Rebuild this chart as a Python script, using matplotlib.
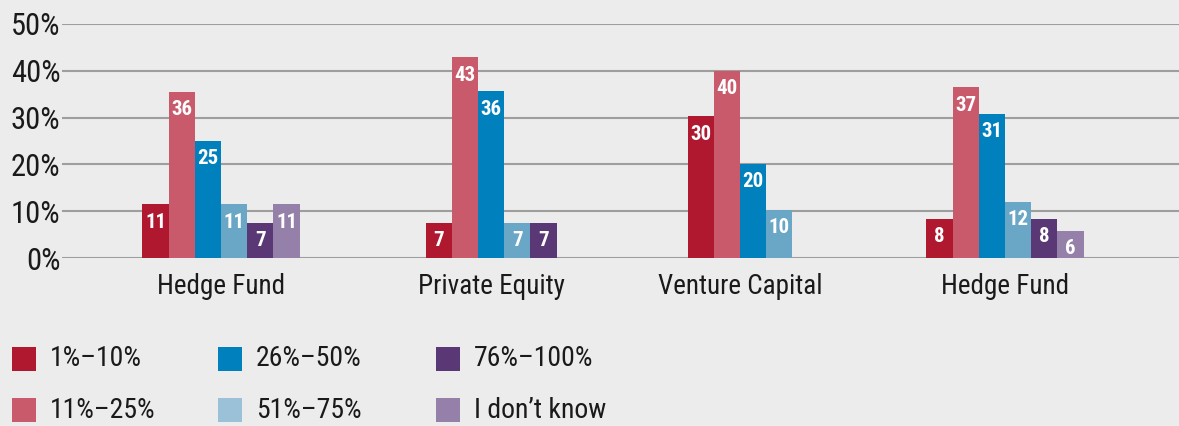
import numpy as np
import matplotlib.pyplot as plt
from matplotlib.patches import Rectangle

plt.rcParams['font.family'] = ['Roboto Condensed', 'DejaVu Sans']

# Data
groups = ['Hedge Fund', 'Private Equity', 'Venture Capital', 'Hedge Fund']
series = ['1%\u201310%', '11%\u201325%', '26%\u201350%', '51%\u201375%', '76%\u2013100%', 'I don\u2019t know']
# bar heights (None = no bar)
hf1 = [11.5, 35.5, 25.1, 11.5, 7.5, 11.5]
pe = [7.5, 42.9, 35.6, 7.5, 7.5, None]
vc = [30.3, 40.0, 20.1, 10.3, None, None]
hf2 = [8.3, 36.5, 30.8, 12.0, 8.3, 5.8]
# printed labels
hf1_lab = [11, 36, 25, 11, 7, 11]
pe_lab = [7, 43, 36, 7, 7, None]
vc_lab = [30, 40, 20, 10, None, None]
hf2_lab = [8, 37, 31, 12, 8, 6]

colors = ['#b0182f', '#c85a6b', '#0080bd', '#6aa6c6', '#5a3775', '#9580aa']
legend_colors = ['#b0182f', '#c85a6b', '#0080bd', '#9bc1d8', '#5a3775', '#9580aa']
bg = '#ececec'
txt = '#1a1a1a'

W, H = 1179, 426
# layout (pixel units on the x axis)
group_x = [221, 491, 740, 1005]
bar_w = 26.2

fig = plt.figure(figsize=(W / 100, H / 100), dpi=100, facecolor=bg)
ax = fig.add_axes([62 / W, 1 - 258 / H, 1 - 62 / W, (258 - 24) / H], facecolor=bg)
ax.set_xlim(62, W)
ax.set_ylim(0, 50)

for gx, vals, labs in zip(group_x, [hf1, pe, vc, hf2], [hf1_lab, pe_lab, vc_lab, hf2_lab]):
    idx = [i for i, v in enumerate(vals) if v is not None]
    start = gx - len(idx) * bar_w / 2
    for k, i in enumerate(idx):
        x = start + k * bar_w + bar_w / 2
        ax.bar(x, vals[i], width=bar_w, color=colors[i], zorder=3)
        ax.annotate(str(labs[i]), (x, vals[i]), xytext=(0, -6), textcoords='offset points',
                    ha='center', va='top', color='white', fontsize=15, fontweight='bold', zorder=4)

ax.set_yticks(np.arange(0, 51, 10))
ax.set_yticklabels([f'{t}%' for t in range(0, 51, 10)], fontsize=22, color=txt)
ax.set_xticks(group_x)
ax.set_xticklabels(groups, fontsize=19.5, color=txt)
ax.tick_params(axis='both', length=0)
ax.tick_params(axis='y', pad=1)
ax.tick_params(axis='x', pad=11)
ax.grid(axis='y', color='#9e9e9e', linewidth=1.5, zorder=0)
ax.grid(axis='x', visible=False)
for s in ax.spines.values():
    s.set_visible(False)
ax.set_axisbelow(True)

# legend, column-major
col_x = [12, 218, 436]
row_y = [359, 410]
for i, name in enumerate(series):
    cx = col_x[i // 2]
    cy = row_y[i % 2]
    fig.add_artist(Rectangle((cx / W, 1 - (cy + 12) / H), 24 / W, 24 / H,
                             transform=fig.transFigure, facecolor=legend_colors[i], edgecolor='none'))
    fig.text((cx + 38) / W, 1 - cy / H, name, fontsize=20, color=txt, va='center', ha='left')

fig.savefig('out.png', dpi=100, facecolor=bg)
